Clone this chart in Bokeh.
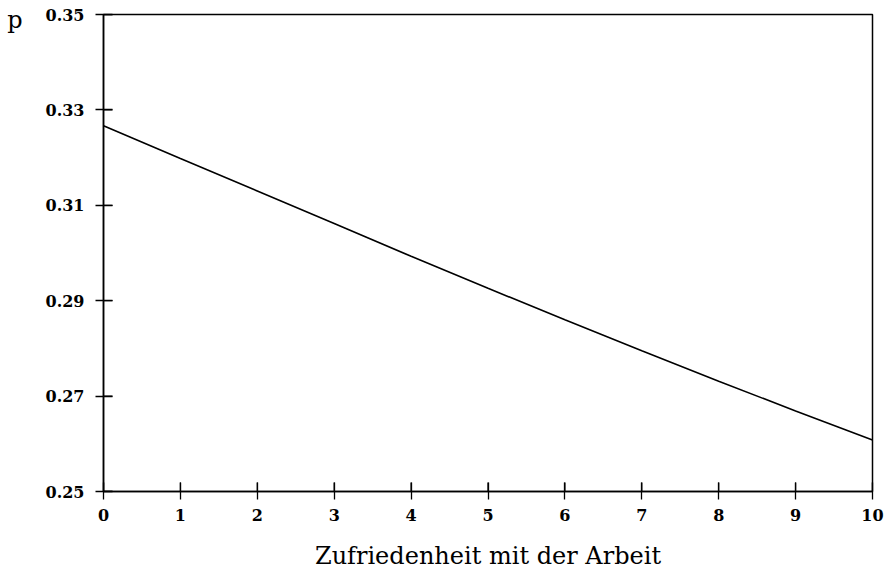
import math
from bokeh.plotting import figure
from bokeh.models import FixedTicker, Range1d, PrintfTickFormatter, LinearAxis
from bokeh.embed import file_html
from bokeh.resources import INLINE

# data
zufriedenheit = [0, 1, 2, 3, 4, 5, 6, 7, 8, 9, 10]
p_values = [0.3267, 0.3198, 0.3130, 0.3062, 0.2993, 0.2926, 0.2860, 0.2795, 0.2731, 0.2669, 0.2608]
x_ticks = [0, 1, 2, 3, 4, 5, 6, 7, 8, 9, 10]
y_ticks = [0.25, 0.27, 0.29, 0.31, 0.33, 0.35]
x_title = "Zufriedenheit mit der Arbeit"
y_title = "p"

SERIF = "DejaVu Serif"
X_MIN, X_MAX = x_ticks[0], x_ticks[-1]
Y_MIN, Y_MAX = y_ticks[0], y_ticks[-1]
Y_TITLE_POS = 0.3488  # where the "p" sits (style, just below the top)

p = figure(width=884, height=572, output_backend="svg", toolbar_location=None,
           x_range=Range1d(X_MIN, X_MAX), y_range=Range1d(Y_MIN, Y_MAX),
           min_border_left=103, min_border_right=12, min_border_top=14, min_border_bottom=80)
p.xgrid.visible = False
p.ygrid.visible = False
p.background_fill_alpha = 0
p.border_fill_color = "white"
p.outline_line_color = "black"
p.outline_line_width = 1.5
p.outline_line_alpha = 1.0

p.line(zufriedenheit, p_values, line_color="black", line_width=1.6)

# inner halves of the crossing tick marks
p.scatter(x=x_ticks, y=[Y_MIN] * len(x_ticks), marker="dash", size=18, angle=math.pi / 2,
          line_color="black", line_width=1.3)
p.scatter(x=[X_MIN] * len(y_ticks), y=y_ticks, marker="dash", size=18,
          line_color="black", line_width=1.3)

for ax in (p.xaxis[0], p.yaxis[0]):
    ax.axis_line_color = "black"
    ax.axis_line_width = 1.5
    ax.major_tick_line_color = "black"
    ax.major_tick_line_width = 1.3
    ax.major_tick_in = 9
    ax.major_tick_out = 8
    ax.minor_tick_line_color = None
    ax.major_label_text_font = SERIF
    ax.major_label_text_font_style = "bold"
    ax.major_label_text_font_size = "16px"
    ax.major_label_text_color = "black"

p.xaxis.ticker = FixedTicker(ticks=x_ticks)
p.yaxis.ticker = FixedTicker(ticks=y_ticks)
p.yaxis.formatter = PrintfTickFormatter(format="%.2f")
p.xaxis.major_label_standoff = 9
p.yaxis.major_label_standoff = 11

p.xaxis.axis_label = x_title
p.xaxis.axis_label_text_font = SERIF
p.xaxis.axis_label_text_font_style = "normal"
p.xaxis.axis_label_text_font_size = "24px"
p.xaxis.axis_label_text_color = "black"
p.xaxis.axis_label_standoff = 18

# "p" title at the top-left, drawn as an extra, otherwise invisible axis
title_axis = LinearAxis(ticker=FixedTicker(ticks=[Y_TITLE_POS]),
                        major_label_overrides={Y_TITLE_POS: y_title})
title_axis.axis_line_color = None
title_axis.major_tick_line_color = None
title_axis.minor_tick_line_color = None
title_axis.major_tick_out = 0
title_axis.major_tick_in = 0
title_axis.major_label_standoff = 20
title_axis.major_label_text_font = SERIF
title_axis.major_label_text_font_size = "24px"
title_axis.major_label_text_color = "black"
p.add_layout(title_axis, "left")

open("out.html", "w").write(file_html(p, INLINE))
